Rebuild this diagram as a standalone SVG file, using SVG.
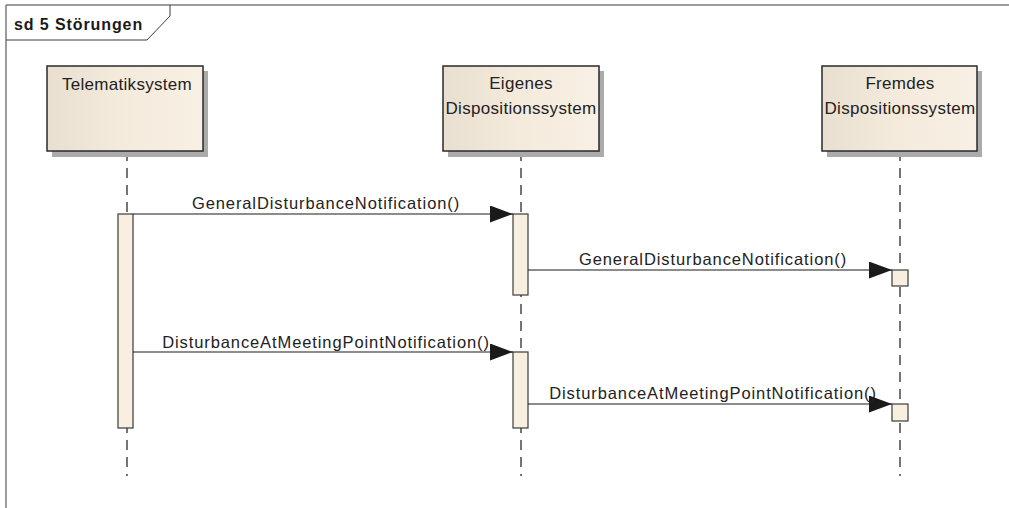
<svg xmlns="http://www.w3.org/2000/svg" width="1009" height="508" viewBox="0 0 1009 508">
<defs>
<linearGradient id="nodeGrad" x1="0" y1="0" x2="1" y2="0">
<stop offset="0" stop-color="#e9dfd0"/>
<stop offset="0.45" stop-color="#f4eadc"/>
<stop offset="1" stop-color="#f8f0e4"/>
</linearGradient>
<marker id="arrow" markerWidth="24" markerHeight="17" refX="23" refY="8.5" orient="auto" markerUnits="userSpaceOnUse">
<path d="M0,0 L23,8.5 L0,17 Z" fill="#1a1a1a"/>
</marker>
<style>
.frame{fill:none;stroke:#3a3a3a;stroke-width:1}
.title{font-family:"Liberation Sans",Arial,sans-serif;font-size:16px;font-weight:bold;fill:#1a1a1a;letter-spacing:0.9px}
.shadow{fill:#ababab}
.box{fill:url(#nodeGrad);stroke:#2a2a2a;stroke-width:1.5}
.lbl{font-family:"Liberation Sans",Arial,sans-serif;font-size:17px;fill:#222222;text-anchor:middle;letter-spacing:0.3px}
.life{stroke:#1a1a1a;stroke-width:1.2;stroke-dasharray:10,7;fill:none}
.act{fill:#f9efe1;stroke:#3a3a3a;stroke-width:1.2}
.msg{stroke:#1a1a1a;stroke-width:1.2;fill:none;marker-end:url(#arrow)}
.mlbl{font-family:"Liberation Sans",Arial,sans-serif;font-size:16.5px;fill:#222222;text-anchor:middle;letter-spacing:0.9px}
</style>
</defs>
<rect width="1009" height="508" fill="#ffffff"/>
<g id="frame">
<path class="frame" d="M6,508 L6,5 L1009,5"/>
<path class="frame" d="M6,40 L147,40 L170,16 L170,5"/>
<text class="title" x="14" y="30">sd 5 Störungen</text>
</g>
<g id="lifelines">
<line class="life" x1="127" y1="151" x2="127" y2="476"/>
<line class="life" x1="521" y1="151" x2="521" y2="476"/>
<line class="life" x1="900" y1="151" x2="900" y2="476"/>
</g>
<g id="telematiksystem">
<rect class="shadow" x="52" y="71" width="156" height="86"/>
<rect class="box" x="47" y="66" width="156" height="85"/>
<text class="lbl" x="127" y="90">Telematiksystem</text>
</g>
<g id="eigenes">
<rect class="shadow" x="448" y="71" width="156" height="86"/>
<rect class="box" x="443" y="66" width="156" height="85"/>
<text class="lbl" x="521" y="89">Eigenes</text>
<text class="lbl" x="521" y="114">Dispositionssystem</text>
</g>
<g id="fremdes">
<rect class="shadow" x="827" y="71" width="155" height="86"/>
<rect class="box" x="822" y="66" width="155" height="85"/>
<text class="lbl" x="900" y="89">Fremdes</text>
<text class="lbl" x="900" y="114">Dispositionssystem</text>
</g>
<g id="activations">
<rect class="act" x="118" y="214" width="15" height="214"/>
<rect class="act" x="513" y="214" width="15" height="81"/>
<rect class="act" x="513" y="352" width="15" height="76"/>
<rect class="act" x="892" y="270" width="16" height="16"/>
<rect class="act" x="892" y="404" width="16" height="17"/>
</g>
<g id="connectors">
<line class="msg" x1="133" y1="214" x2="513" y2="214"/>
<text class="mlbl" x="326" y="209">GeneralDisturbanceNotification()</text>
<line class="msg" x1="528" y1="270" x2="892" y2="270"/>
<text class="mlbl" x="713" y="265">GeneralDisturbanceNotification()</text>
<line class="msg" x1="133" y1="352" x2="513" y2="352"/>
<text class="mlbl" x="326" y="348">DisturbanceAtMeetingPointNotification()</text>
<line class="msg" x1="528" y1="404" x2="892" y2="404"/>
<text class="mlbl" x="713" y="399">DisturbanceAtMeetingPointNotification()</text>
</g>
</svg>
